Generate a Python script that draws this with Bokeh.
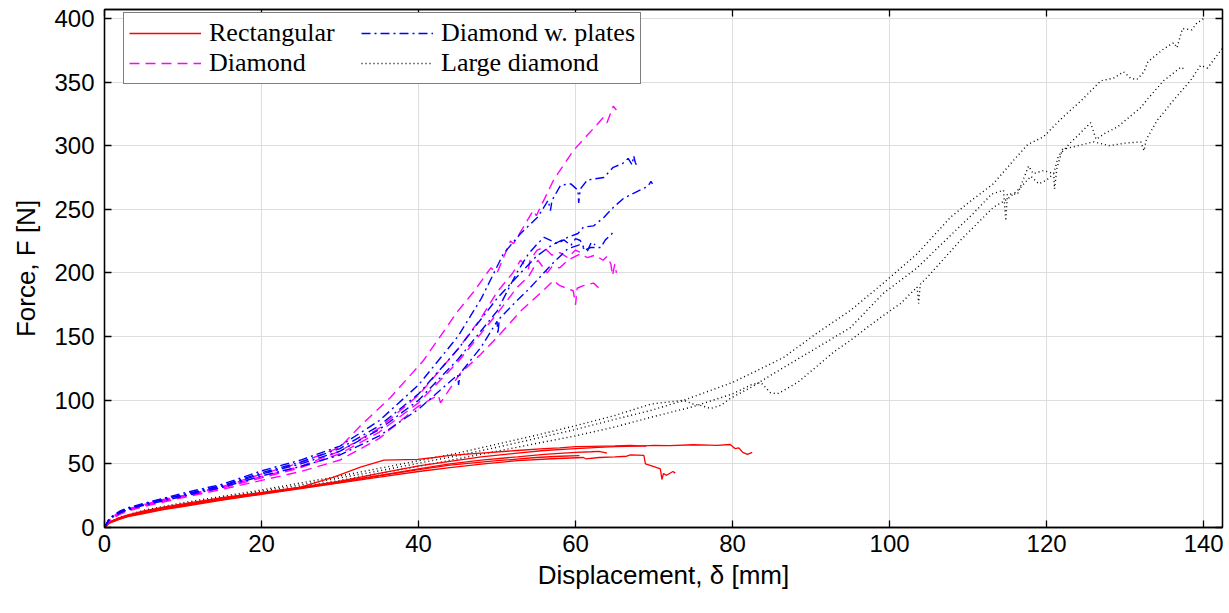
from bokeh.plotting import figure
from bokeh.models import Range1d, LinearAxis, Legend, LegendItem, FixedTicker
from bokeh.embed import file_html
from bokeh.resources import INLINE

# ---------------- data ----------------
x_ticks = [0, 20, 40, 60, 80, 100, 120, 140]
y_ticks = [0, 50, 100, 150, 200, 250, 300, 350, 400]

# Rectangular (red, solid)
rect1_x = [0, 0.5, 1, 2, 3, 5, 7.5, 10, 12.5, 15, 17.5, 20, 25, 30, 35, 40, 44, 48, 52.6, 56, 60, 63, 65, 68, 70, 72, 75, 77, 78, 79.7, 80.3, 80.8, 81.3, 81.9, 82.5]
rect1_y = [0, 3.5, 5, 7.5, 9.5, 12.5, 15.5, 18, 20.5, 23, 25, 27, 31.5, 36.5, 42.5, 48.5, 52, 55.5, 58.5, 60.5, 62, 63, 63.5, 64, 64.5, 64.3, 65, 64.8, 64.5, 65.2, 62, 62.5, 59, 57.4, 59]
rect2_x = [0, 0.5, 1, 2, 3, 5, 7.5, 10, 15, 20, 25, 30, 35, 40, 44, 48.3, 52.6, 57, 61, 61.3, 63, 65, 66.5, 67, 68.7, 68.9, 69.6, 70.8, 71, 71.2, 71.6, 72.4, 72.7]
rect2_y = [0, 3, 4.5, 6.5, 8.5, 11, 14, 16.5, 21.5, 26, 30.5, 35, 39.5, 44, 47, 50, 52.6, 54, 55, 54, 55, 55.5, 56, 57, 56.6, 50, 48.7, 46, 37.7, 42.4, 41, 44, 42.7]
rect3_x = [0, 0.5, 1, 2, 3, 5, 7.5, 10, 15, 20, 25, 29.2, 32.6, 35.6, 39.9, 42, 44, 48, 52.6, 56, 58, 60, 62, 65, 67, 69]
rect3_y = [0, 4, 5.5, 8, 10, 13, 16, 18.5, 23.5, 27.5, 31.7, 39.5, 47.4, 53, 53.5, 55, 56.6, 58.5, 60.5, 62, 62.5, 63.5, 63.8, 64.2, 64.5, 64]
rect4_x = [0, 0.5, 1, 2, 3, 5, 7.5, 10, 15, 20, 25, 30, 35, 40, 44, 48, 52.6, 56, 60, 62, 63, 64]
rect4_y = [0, 3.5, 5, 7.5, 9.5, 12, 15, 17.5, 22.5, 27, 31.5, 36, 41, 46, 50, 53, 55.5, 57.5, 59, 59.5, 59.8, 58.5]
rect5_x = [0, 0.5, 1, 2, 3, 5, 7.5, 10, 15, 20, 25, 30, 35, 40, 44, 50, 55, 58, 60.5]
rect5_y = [0, 3, 4.5, 7, 9, 11.5, 14.5, 17, 22, 26.5, 31, 35.5, 40.5, 45.5, 49, 52.5, 55, 56, 56.5]

# Diamond (magenta, dashed)
dia1_x = [0, 0.5, 1, 2, 3, 5, 7.5, 10, 15, 20, 25, 30, 32.6, 36.4, 40.6, 45, 47, 49.2, 50, 51.7, 52.1, 54.6, 55, 57.2, 59.7, 61, 62.5, 63.5, 64, 64.8, 65.2]
dia1_y = [0, 5.5, 8.5, 12, 14.5, 18, 22, 25, 32, 42, 51, 63, 80, 102, 131, 170, 185, 204, 200, 225, 223, 249, 245, 273, 296, 305, 315, 322, 318, 331, 328]
dia2_x = [0, 0.5, 1, 2, 3, 5, 7.5, 10, 15, 20, 25, 30, 35, 40, 45, 50, 52.6, 54, 55.2, 56.4, 57, 58, 59, 60.6, 61.5, 62.5, 63.5, 64, 64.5, 64.7, 65, 65.2]
dia2_y = [0, 5, 8, 11.5, 14, 17.5, 21, 24.5, 31, 39, 47, 58, 75, 98, 130, 168, 189, 197, 210, 200, 205, 204, 210, 215, 212, 214, 210, 213, 207, 198, 207, 200]
dia3_x = [0, 0.5, 1, 2, 3, 5, 7.5, 10, 15, 20, 25, 30, 35, 39.8, 42.5, 42.8, 45.3, 47.9, 50.4, 53, 55.5, 57.2, 58, 59.7, 60, 60.2, 61, 62.3, 63]
dia3_y = [0, 4.5, 7, 10.5, 13, 16.5, 20, 23.5, 30, 37, 44, 53, 70, 94.5, 104, 98, 121, 136, 152, 170, 184, 194, 190, 186, 175, 188, 190, 192, 188]
dia4_x = [0, 0.5, 1, 2, 3, 5, 7.5, 10, 15, 20, 25, 30, 35, 40, 45, 48, 50, 52, 53, 54, 54.2, 55.1, 56, 57, 58, 59, 60, 61]
dia4_y = [0, 5, 8, 11.5, 14, 17.5, 21.5, 25, 32, 40, 48, 60, 78, 104, 140, 165, 185, 200, 210, 203, 210, 218, 220, 214, 216, 212, 218, 215]

# Diamond w. plates (blue, dash-dot)
plt1_x = [0, 0.5, 1, 2, 3, 5, 7.5, 10, 15, 20, 25, 30, 35, 40, 45, 48, 50.8, 53, 55.2, 56.5, 56.8, 57, 58.1, 59.4, 60.3, 60.4, 60.6, 61.5, 63.6, 64.8, 66, 66.7, 67.2, 67.4, 67.6, 67.8]
plt1_y = [0, 6, 9, 13, 15.5, 19, 23, 27, 34, 44.5, 53, 64, 84, 112, 150, 180, 215, 231, 244, 257, 249, 257, 269, 270, 265, 255, 266, 273, 275, 283, 286, 290, 285, 292, 287, 284]
plt2_x = [0, 0.5, 1, 2, 3, 5, 7.5, 10, 15, 20, 25, 30, 35, 40, 45, 50, 53, 55, 57, 59, 60.3, 61, 62.3, 63.6, 64.8, 66.1, 67.5, 68.5, 69.2, 69.6, 69.8]
plt2_y = [0, 5.5, 8.5, 12.5, 15, 18.5, 22.5, 26, 33, 43, 51.5, 62, 80, 105, 140, 180, 200, 213, 222, 228, 231, 236, 237, 243.6, 251.5, 258.5, 263, 266, 268, 272, 270]
plt3_x = [0, 0.5, 1, 2, 3, 5, 7.5, 10, 15, 20, 25, 30, 35, 40, 45, 50, 52.5, 54, 55, 56, 57, 57.7, 58.5, 59.4, 60, 60.6, 61.2, 61.9, 63.2, 63.8, 64.5, 64.8]
plt3_y = [0, 5.5, 8.5, 12, 14.5, 18, 22, 25.5, 32.5, 42, 50, 60, 77, 100, 132, 170, 200, 215, 222, 228, 225, 223, 226, 221.6, 227, 225.5, 218, 220, 220, 226, 230, 232]
plt4_x = [0, 0.5, 1, 2, 3, 5, 7.5, 10, 15, 20, 25, 30, 35, 40, 45, 45.1, 45.3, 48, 50, 50.1, 50.3, 52, 54, 55.5, 57, 58, 59, 60.5, 61.5, 62, 62.5]
plt4_y = [0, 5, 8, 11.5, 14, 17.5, 21, 24.5, 31.5, 40.5, 48, 57, 72, 93, 120, 112, 121, 142, 162, 152, 164, 175, 187, 197, 207, 213, 219, 222, 217, 224, 222]

# Large diamond (black, dotted)
lrg1_x = [0, 0.5, 1, 2, 3, 5, 7.5, 10, 15, 20, 25, 30, 35, 40, 45, 50, 55, 60, 65, 69.6, 73.8, 80, 86.5, 90.8, 95, 99.2, 103.5, 107.8, 110, 113.2, 116, 117.6, 119.6, 122, 124.5, 126.9, 128.5, 129.8, 130.7, 131.5, 132.4, 132.9, 134.9, 136.2, 136.6, 137.3, 138.5, 139.2, 139.6, 140.2]
lrg1_y = [0, 3.5, 5, 8, 10, 13.5, 16.5, 19.5, 24.5, 29.5, 35, 40.5, 46.5, 52.5, 58.5, 65.5, 72.5, 80, 88, 97, 100, 114, 133.6, 153, 170.5, 192, 215, 244, 255, 270, 290, 301, 307, 322, 336, 351, 353, 358, 353, 352, 358, 366, 376, 381, 377, 392, 391, 397, 398, 401]
lrg2_x = [0, 0.5, 1, 2, 3, 5, 7.5, 10, 15, 20, 25, 30, 35, 40, 45, 50, 55, 60, 65, 69.6, 72, 73.8, 75, 75.9, 77.2, 78.5, 79.7, 82.3, 86.5, 90.8, 95, 99.2, 103.5, 107, 110.7, 113, 114.5, 114.8, 115, 116.3, 117.7, 118.3, 119.6, 120.9, 121.5, 123, 125.6, 126.3, 127.5, 129, 132, 132.9, 134.9, 137.1, 137.6]
lrg2_y = [0, 3, 4.5, 7.5, 9.5, 12.5, 15.5, 18.5, 23.5, 28.5, 33.5, 39, 44.5, 50.5, 56.5, 63, 70, 77, 85, 92, 96.5, 99.8, 97, 96, 93.5, 96, 101.4, 110, 125.7, 141.5, 157, 184, 204, 225, 247, 262, 265, 241, 262, 262, 284, 278, 280.5, 278, 292, 302, 318, 305, 310, 314.6, 330, 337, 351, 361.7, 360]
lrg3_x = [0, 0.5, 1, 2, 3, 5, 7.5, 10, 15, 20, 25, 30, 35, 40, 45, 50, 55, 60, 65, 69.6, 75, 80, 82.3, 83.6, 84.8, 85.7, 86.5, 88.3, 90.8, 92.9, 95, 97.2, 99.2, 101.4, 103.5, 103.7, 103.9, 105, 109, 113.2, 115, 116.5, 118, 119, 120, 120.9, 121, 121.3, 122, 124, 126, 128, 130, 132, 132.4, 132.7, 134.1, 136.2, 138.3, 139.6, 140.5, 142.2, 143]
lrg3_y = [0, 3, 4.5, 7, 9, 12, 15, 17.5, 22.5, 27, 32, 37, 42.5, 48, 54, 60, 66, 72, 79, 86.6, 95, 105, 112, 114, 106, 105, 107.7, 114, 127, 138, 147, 157.4, 166.6, 176, 189, 176, 191, 198, 225.5, 251.5, 258, 266, 276, 270, 273, 278, 266, 282, 297, 300, 303, 300, 302, 303, 296, 305, 320, 336, 351, 363, 361, 375, 380]

rect_series = [(rect1_x, rect1_y), (rect2_x, rect2_y), (rect3_x, rect3_y), (rect4_x, rect4_y), (rect5_x, rect5_y)]
dia_series = [(dia1_x, dia1_y), (dia2_x, dia2_y), (dia3_x, dia3_y), (dia4_x, dia4_y)]
plt_series = [(plt1_x, plt1_y), (plt2_x, plt2_y), (plt3_x, plt3_y), (plt4_x, plt4_y)]
lrg_series = [(lrg1_x, lrg1_y), (lrg2_x, lrg2_y), (lrg3_x, lrg3_y)]

# ---------------- figure ----------------
p = figure(frame_width=1118, frame_height=518,
           x_range=Range1d(0, 142.4), y_range=Range1d(0, 407),
           output_backend="svg", toolbar_location=None,
           min_border_left=104, min_border_top=9, min_border_right=2, min_border_bottom=80)
p.background_fill_color = "white"
p.border_fill_color = "white"
p.outline_line_color = "black"
p.outline_line_width = 1.3

def style_axis(ax, ticks, show_labels):
    ax.ticker = FixedTicker(ticks=ticks)
    ax.axis_line_color = "black"
    ax.axis_line_width = 1.3
    ax.major_tick_in = 7
    ax.major_tick_out = 0
    ax.major_tick_line_color = "black"
    ax.major_tick_line_width = 1.3
    ax.minor_tick_in = 0
    ax.minor_tick_out = 0
    if show_labels:
        ax.major_label_text_font = "Liberation Sans"
        ax.major_label_text_font_size = "24px"
        ax.major_label_text_color = "black"
        ax.axis_label_text_font = "Liberation Sans"
        ax.axis_label_text_font_size = "26px"
        ax.axis_label_text_font_style = "normal"
        ax.axis_label_text_color = "black"
    else:
        ax.major_label_overrides = {t: "" for t in ticks}
        ax.major_label_standoff = 0
        ax.major_label_text_font_size = "1px"

style_axis(p.xaxis[0], x_ticks, True)
style_axis(p.yaxis[0], y_ticks, True)
p.xaxis.axis_label = "Displacement, δ [mm]"
p.yaxis.axis_label = "Force, F [N]"
p.xaxis.major_label_standoff = 7
p.xaxis.axis_label_standoff = 5
p.yaxis.major_label_standoff = 10
p.yaxis.axis_label_standoff = 10

top_ax = LinearAxis()
style_axis(top_ax, x_ticks, False)
p.add_layout(top_ax, "above")
right_ax = LinearAxis()
style_axis(right_ax, y_ticks, False)
p.add_layout(right_ax, "right")

p.xgrid.ticker = FixedTicker(ticks=x_ticks)
p.ygrid.ticker = FixedTicker(ticks=y_ticks)
p.grid.grid_line_color = "#dedede"
p.grid.grid_line_width = 1

# ---------------- lines ----------------
lrg_r = [p.line(x, y, line_color="black", line_width=1.4, line_dash="1 3") for x, y in lrg_series]
rect_r = [p.line(x, y, line_color="#ff0000", line_width=1.3) for x, y in rect_series]
dia_r = [p.line(x, y, line_color="#ff00ff", line_width=1.4, line_dash="10 6") for x, y in dia_series]
plt_r = [p.line(x, y, line_color="#0000ff", line_width=1.4, line_dash="9 4 2 4") for x, y in plt_series]

legend = Legend(items=[
    LegendItem(label="Rectangular", renderers=[rect_r[0]]),
    LegendItem(label="Diamond", renderers=[dia_r[0]]),
    LegendItem(label="Diamond w. plates", renderers=[plt_r[0]]),
    LegendItem(label="Large diamond", renderers=[lrg_r[0]]),
], ncols=2)
legend.location = (19, 443)
legend.label_text_font = "Liberation Serif"
legend.label_text_font_size = "26px"
legend.label_text_color = "black"
legend.glyph_width = 72
legend.glyph_height = 26
legend.label_height = 26
legend.label_width = 152
legend.label_standoff = 8
legend.spacing = 0
legend.padding = 5
legend.margin = 0
legend.border_line_color = "black"
legend.border_line_width = 1.3
legend.background_fill_color = "white"
legend.background_fill_alpha = 1
p.add_layout(legend)

open("out.html", "w").write(file_html(p, INLINE))
